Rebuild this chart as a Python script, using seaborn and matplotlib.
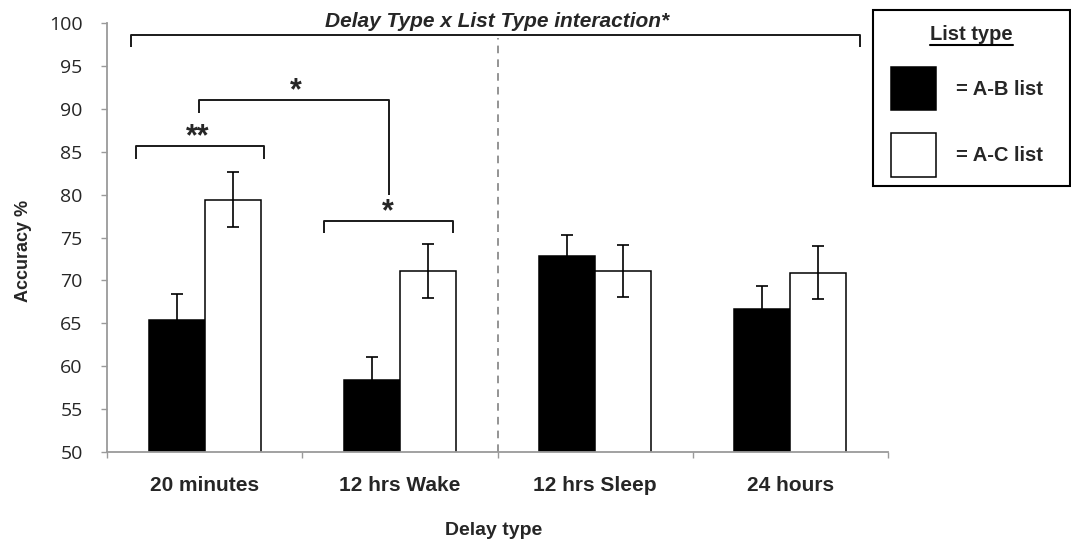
import matplotlib
matplotlib.use("Agg")
import matplotlib.pyplot as plt
import matplotlib.lines as mlines
from matplotlib.patches import Rectangle
from matplotlib.legend_handler import HandlerPatch
from matplotlib.offsetbox import VPacker, DrawingArea
import numpy as np
import pandas as pd
import seaborn as sns

# ---- data -------------------------------------------------------------
delay_types = ["20 minutes", "12 hrs Wake", "12 hrs Sleep", "24 hours"]
list_types = ["A-B list", "A-C list"]
ab_accuracy = [65.4, 58.4, 72.8, 66.7]
ac_accuracy = [79.4, 71.1, 71.1, 70.9]
ab_error = [3.0, 2.7, 2.5, 2.7]
ac_error = [3.2, 3.2, 3.0, 3.1]
y_ticks = [50, 55, 60, 65, 70, 75, 80, 85, 90, 95, 100]

# significance brackets: (x_left, x_right, y_top, left drop, right drop)
brackets = [
    (-0.377, 3.357, 98.6, 97.2, 97.2),
    (-0.027, 0.946, 91.0, 89.55, 79.95),
    (-0.353, 0.304, 85.65, 84.15, 84.15),
    (0.613, 1.272, 76.95, 75.55, 75.55),
]
stars = [("*", 0.468, 91.1), ("**", -0.034, 85.75), ("*", 0.939, 77.0)]

df = pd.DataFrame({
    "Delay": delay_types * 2,
    "List": [list_types[0]] * 4 + [list_types[1]] * 4,
    "Accuracy": ab_accuracy + ac_accuracy,
})

sns.set_style("white")
plt.rcParams["font.family"] = ["Liberation Sans", "DejaVu Sans"]

fig = plt.figure(figsize=(10.71, 5.45), dpi=100)
ax = fig.add_axes([0.0999, 0.1706, 0.7293, 0.7872])

sns.barplot(data=df, x="Delay", y="Accuracy", hue="List",
            order=delay_types, hue_order=list_types,
            palette=["black", "white"], edgecolor="black", linewidth=1.1,
            width=0.574, errorbar=None, saturation=1, ax=ax)

# error bars placed on the bar centres
for cont, vals, errs in zip(ax.containers, [ab_accuracy, ac_accuracy],
                            [ab_error, ac_error]):
    xs = [p.get_x() + p.get_width() / 2 for p in cont.patches]
    ax.errorbar(xs, vals, yerr=errs, fmt="none", ecolor="black",
                elinewidth=1.2, capsize=4, capthick=1.2, zorder=3)

ax.set_ylim(50, 100)
ax.set_xlim(-0.5, len(delay_types) - 0.5)
ax.set_yticks(y_ticks)
ax.set_yticklabels([str(t) for t in y_ticks], fontfamily="Open Sans", fontsize=14)
ax.set_xticks(range(len(delay_types)))
ax.set_xticklabels(delay_types, fontsize=15, fontweight="bold")
ax.set_xticks(np.arange(-0.5, len(delay_types)), minor=True)

for side in ("top", "right"):
    ax.spines[side].set_visible(False)
for side in ("left", "bottom"):
    ax.spines[side].set_color("#9a9a9a")
    ax.spines[side].set_linewidth(1.3)

ax.tick_params(axis="y", which="major", direction="out", length=4.5,
               width=1, color="#9a9a9a", pad=13, left=True)
ax.tick_params(axis="x", which="major", length=0, pad=17)
ax.tick_params(axis="x", which="minor", direction="out", length=4.5,
               width=1, color="#9a9a9a", bottom=True)

ax.set_ylabel("Accuracy %", fontsize=13, fontweight="bold")
ax.yaxis.set_label_coords(-0.096, 0.4685)
ax.set_xlabel("Delay type", fontsize=14, fontweight="bold")
ax.xaxis.set_label_coords(0.4945, -0.1635)

ax.set_title("Delay Type x List Type interaction*", fontsize=15,
             fontweight="bold", fontstyle="italic", y=0.9907, pad=0,
             va="baseline")

# divider between wake and sleep conditions
ax.vlines(1.5, 50, 98.25, colors="#777777", linestyles=(0, (5, 4)),
          linewidth=1.1, zorder=0.5)

for x0, x1, yt, yl, yr in brackets:
    ax.plot([x0, x0, x1, x1], [yl, yt, yt, yr], color="#1a1a1a",
            linewidth=1.4, solid_capstyle="butt", clip_on=False)
for txt, x, y in stars:
    ax.text(x, y, txt, ha="center", va="baseline", fontsize=22,
            fontweight="bold")

# legend
handles, labels = ax.get_legend_handles_labels()
if ax.get_legend() is not None:
    ax.get_legend().remove()
leg = ax.legend(handles, ["= " + l for l in labels],
                loc="upper left",
                bbox_to_anchor=(873 / 1071, 1 - 185 / 545, 197 / 1071, 175 / 545),
                bbox_transform=fig.transFigure, mode="expand",
                title="List type",
                prop={"family": "Liberation Sans", "weight": "bold", "size": 14.5},
                title_fontproperties={"family": "Liberation Sans",
                                      "weight": "bold", "size": 14.5},
                handler_map={Rectangle: HandlerPatch(xpad=0.45)},
                handlelength=2.69, handleheight=2.92, handletextpad=1.0,
                borderpad=0.45, labelspacing=1.14, fancybox=False,
                framealpha=1, borderaxespad=0)
leg.get_frame().set_edgecolor("black")
leg.get_frame().set_linewidth(1.5)
for h in leg.legend_handles:
    h.set_edgecolor("black")
    h.set_linewidth(1.1)

# extra room above the legend title
title_box = leg._legend_box.get_children()[0]
spacer = DrawingArea(1, 4.5)
head = VPacker(children=[spacer, title_box], pad=0, sep=0, align="center")
head.set_figure(fig)
spacer.set_figure(fig)
leg._legend_box._children[0] = head

fig.canvas.draw()
bb = leg.get_title().get_window_extent()
inv = fig.transFigure.inverted()
(ux0, uy), (ux1, _) = inv.transform([(bb.x0, bb.y0 - 1), (bb.x1, bb.y0 - 1)])
fig.add_artist(mlines.Line2D([ux0, ux1], [uy, uy], color="black",
                             linewidth=1.5, transform=fig.transFigure))

fig.savefig("out.png", dpi=100)
